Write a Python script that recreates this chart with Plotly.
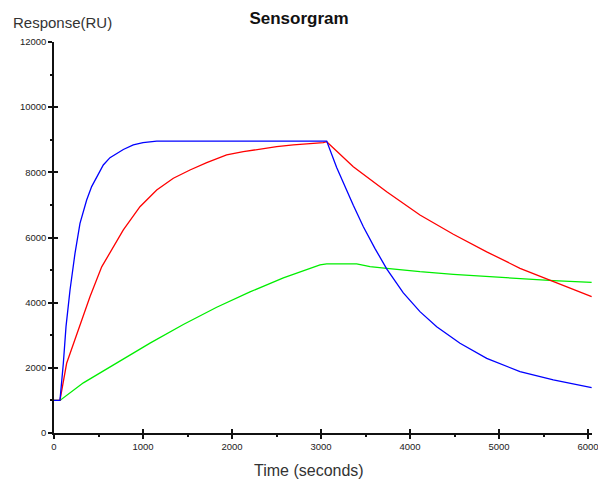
import plotly.graph_objects as go

# Time (seconds) and response (RU)
t_blue = [0, 67, 105, 135, 180, 236, 292, 367, 423, 554, 629, 704, 779, 891, 1000, 1154, 3064,
          3176, 3289, 3363, 3476, 3607, 3738, 3925, 4112, 4300, 4562, 4862, 5236, 5610, 6041]
v_blue = [1000, 1000, 2140, 3263, 4390, 5515, 6436, 7150, 7561, 8226, 8450, 8585, 8700, 8840, 8910, 8960, 8960,
          8150, 7420, 6990, 6330, 5660, 5040, 4300, 3724, 3263, 2753, 2293, 1882, 1627, 1391]

t_red = [0, 67, 142, 273, 404, 536, 667, 779, 966, 1154, 1341, 1528, 1716, 1940, 2127, 2315, 2502,
         2689, 2876, 3026, 3064, 3363, 3738, 4112, 4487, 4862, 5236, 5610, 6041]
v_red = [1000, 1000, 2140, 3161, 4184, 5100, 5719, 6231, 6946, 7459, 7818, 8072, 8297, 8533, 8634, 8717, 8788,
         8840, 8870, 8911, 8940, 8174, 7407, 6691, 6100, 5560, 5055, 4644, 4184]

t_green = [0, 67, 330, 704, 1079, 1453, 1828, 2202, 2577, 2989, 3064, 3401, 3551, 3738, 4112,
           4487, 4862, 5236, 5610, 6041]
v_green = [1000, 1000, 1540, 2160, 2760, 3330, 3860, 4330, 4760, 5160, 5190, 5190, 5105, 5055, 4951,
           4871, 4798, 4727, 4675, 4625]

x_ticks = [0, 1000, 2000, 3000, 4000, 5000, 6000]
y_ticks = [0, 2000, 4000, 6000, 8000, 10000, 12000]

fig = go.Figure()
for t, v, c in [(t_green, v_green, "#00EE00"), (t_red, v_red, "#FF0000"), (t_blue, v_blue, "#0000FF")]:
    fig.add_trace(go.Scatter(x=t, y=v, mode="lines", line=dict(color=c, width=1.3),
                             showlegend=False, hoverinfo="skip"))

# invisible trace for the inner-tick overlay axes
fig.add_trace(go.Scatter(x=[0], y=[0], xaxis="x2", yaxis="y2", mode="markers",
                         marker=dict(opacity=0), showlegend=False, hoverinfo="skip"))

tickfont = dict(family="Arial, Liberation Sans, sans-serif", size=9.5, color="#222")
xr = [0, 6045]
yr = [0, 12000]

fig.update_layout(
    width=598, height=479,
    margin=dict(l=54, r=6, t=42, b=46, autoexpand=False),
    paper_bgcolor="white", plot_bgcolor="white",
    title=dict(text="<b>Sensorgram</b>", x=0.5, xanchor="center", y=0.962, yanchor="middle",
               font=dict(family="Arial, Liberation Sans, sans-serif", size=17, color="#111")),
    xaxis=dict(range=xr, tickvals=x_ticks, ticktext=[str(v) for v in x_ticks],
               showgrid=False, zeroline=False, showline=True, linecolor="#111", linewidth=1.5,
               ticks="outside", ticklen=4, tickwidth=1.5, tickcolor="#111", tickfont=tickfont,
               ticklabeloverflow="allow", automargin=False,
               minor=dict(dtick=500, tick0=0, ticks="outside", ticklen=2, tickwidth=1.5, tickcolor="#111"),
               fixedrange=True),
    yaxis=dict(range=yr, tickvals=y_ticks, ticktext=[str(v) for v in y_ticks],
               showgrid=False, zeroline=False, showline=True, linecolor="#111", linewidth=1.5,
               ticks="outside", ticklen=4, tickwidth=1.5, tickcolor="#111", tickfont=tickfont,
               automargin=False,
               minor=dict(dtick=1000, tick0=0, ticks="outside", ticklen=2, tickwidth=1.5, tickcolor="#111"),
               fixedrange=True),
    xaxis2=dict(range=xr, overlaying="x", anchor="y2", side="bottom", tickvals=x_ticks,
                showticklabels=False, showgrid=False, zeroline=False, showline=False,
                ticks="inside", ticklen=4, tickwidth=1.5, tickcolor="#111", fixedrange=True,
                automargin=False),
    yaxis2=dict(range=yr, overlaying="y", anchor="x2", side="left", tickvals=y_ticks,
                showticklabels=False, showgrid=False, zeroline=False, showline=False,
                ticks="inside", ticklen=4, tickwidth=1.5, tickcolor="#111", fixedrange=True,
                automargin=False),
    annotations=[
        dict(text="Response(RU)", xref="paper", yref="paper", x=-54/538, y=1 + 20/391,
             xanchor="left", yanchor="middle", showarrow=False,
             font=dict(family="Arial, Liberation Sans, sans-serif", size=15, color="#333"),
             xshift=11),
        dict(text="Time (seconds)", xref="paper", yref="paper", x=(309 - 54) / 538, y=-37/391,
             xanchor="center", yanchor="middle", showarrow=False,
             font=dict(family="Arial, Liberation Sans, sans-serif", size=16, color="#333")),
    ],
)

fig.write_html("out.html")
